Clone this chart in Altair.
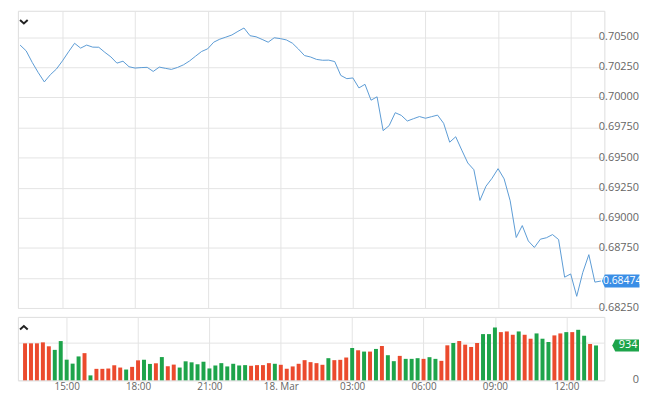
import altair as alt
import pandas as pd

# ---- data (15-minute steps, 17 Mar 13:15 -> 18 Mar 13:15) ----
price = [0.70435, 0.70387, 0.70291, 0.70206, 0.70129, 0.70189, 0.70236, 0.70304, 0.70379, 0.70450,
         0.70410, 0.70435, 0.70418, 0.70417, 0.70375, 0.70337, 0.70285, 0.70301, 0.70255, 0.70244,
         0.70248, 0.70250, 0.70216, 0.70252, 0.70242, 0.70233, 0.70249, 0.70271, 0.70303, 0.70343,
         0.70382, 0.70404, 0.70459, 0.70484, 0.70501, 0.70519, 0.70549, 0.70577, 0.70513, 0.70504,
         0.70482, 0.70459, 0.70496, 0.70489, 0.70478, 0.70451, 0.70402, 0.70348, 0.70336, 0.70316,
         0.70309, 0.70310, 0.70298, 0.70183, 0.70156, 0.70162, 0.70079, 0.70109, 0.69977, 0.70005,
         0.69724, 0.69766, 0.69873, 0.69851, 0.69804, 0.69823, 0.69841, 0.69827, 0.69840, 0.69853,
         0.69785, 0.69628, 0.69673, 0.69562, 0.69455, 0.69399, 0.69144, 0.69262, 0.69328, 0.69408,
         0.69323, 0.69141, 0.68836, 0.68935, 0.68807, 0.68753, 0.68822, 0.68834, 0.68860, 0.68819,
         0.68506, 0.68533, 0.68347, 0.68545, 0.68693, 0.68465, 0.68474]

volume = [991, 991, 991, 1017, 912, 816, 1052, 553, 447, 640,
          728, 132, 307, 307, 316, 403, 342, 289, 360, 535,
          553, 439, 456, 623, 377, 421, 342, 509, 482, 430,
          498, 318, 397, 460, 372, 443, 398, 407, 389, 407,
          407, 460, 443, 416, 310, 372, 443, 540, 487, 460,
          416, 593, 540, 549, 611, 867, 805, 770, 770, 841,
          920, 673, 513, 655, 575, 575, 593, 575, 620, 575,
          522, 938, 1000, 1053, 956, 894, 1000, 1239, 1239, 1416,
          1292, 1310, 1221, 1310, 1221, 1115, 1257, 1115, 1027, 1204,
          1257, 1292, 1292, 1354, 1195, 974, 934]

direction = list("RRRRRGGGGG" "RGRRRRRGRR" "GGRGRRGGGG" "GGGGGGGGRR" "RRGRRRRRRR"
                 "RGRRRGRGRG" "RGGRGGGRGG" "RRGRRRRGGG" "RRRGRRGGGR" "RGRGGRG")

price_ticks = [0.6825, 0.685, 0.6875, 0.69, 0.6925, 0.695, 0.6975, 0.70, 0.7025, 0.705]
price_tick_labels = ["0.68250", "", "0.68750", "0.69000", "0.69250", "0.69500",
                     "0.69750", "0.70000", "0.70250", "0.70500"]
volume_ticks = [0, 1000]
volume_tick_labels = ["0", ""]
time_tick_hours = [(17, 15), (17, 18), (17, 21), (18, 0), (18, 3), (18, 6), (18, 9), (18, 12)]

times = pd.date_range("2020-03-17 13:15", periods=len(price), freq="15min")
df = pd.DataFrame({
    "t": [t.strftime("%Y-%m-%dT%H:%M:%SZ") for t in times],
    "price": price,
    "volume": volume,
    "dir": direction,
})
last = df.tail(1).copy()
last["price_label"] = [f"{p:.5f}" for p in last["price"]]
last["volume_label"] = [str(v) for v in last["volume"]]
ptick_df = pd.DataFrame({"v": price_ticks, "s": price_tick_labels})
vtick_df = pd.DataFrame({"v": volume_ticks, "s": volume_tick_labels})

W = 592
H_MAIN = 300
H_VOL = 64
LINE = "#5b9bd5"
GREEN = "#1da44a"
RED = "#eb4a2d"
BLUE_BADGE = "#3a8ee6"
LABEL = "#666666"
GRID = "#e4e4e4"
FONT = "Open Sans"

xdomain = [alt.DateTime(year=2020, month=3, date=17, hours=13, minutes=9, seconds=30, utc=True),
           alt.DateTime(year=2020, month=3, date=18, hours=13, minutes=23, seconds=30, utc=True)]
xvalues = [alt.DateTime(year=2020, month=3, date=d, hours=h, utc=True) for d, h in time_tick_hours]
xscale = alt.Scale(type="utc", domain=xdomain)
yscale_p = alt.Scale(domain=[0.6825, 0.70720], nice=False, zero=False)
yscale_v = alt.Scale(domain=[0, 1700], nice=False, zero=False)

yaxis_p = alt.Axis(orient="right", values=price_ticks, labels=False, ticks=False,
                   domain=False, grid=True, gridColor=GRID)
yaxis_v = alt.Axis(orient="right", values=volume_ticks, labels=False, ticks=False,
                   domain=False, grid=True, gridColor=GRID)


def YP(field):
    return alt.Y(field, scale=yscale_p, title=None, axis=yaxis_p)


def YV(field):
    return alt.Y(field, scale=yscale_v, title=None, axis=yaxis_v)


x_main = alt.X("t:T", scale=xscale, title=None,
               axis=alt.Axis(values=xvalues, labels=False, ticks=False, domain=False,
                             grid=True, gridColor=GRID))

base = alt.Chart(df)

line = base.mark_line(color=LINE, strokeWidth=1, clip=True).encode(x=x_main, y=YP("price:Q"))

ptick_text = alt.Chart(ptick_df).mark_text(
    align="right", baseline="middle", fontSize=11, font=FONT, color=LABEL
).encode(x=alt.value(W + 35), y=YP("v:Q"), text="s:N")

chev_down = alt.Chart(pd.DataFrame({"s": [0]})).mark_point(
    shape="M-1,-0.45L0,0.45L1,-0.45", filled=False, strokeWidth=2, color="#222", size=60, opacity=1
).encode(x=alt.value(6), y=alt.value(11))

badge_p = alt.Chart(last).mark_point(
    shape="M-1.17,0L-1,-0.37L1,-0.37L1,0.37L-1,0.37Z", filled=True, opacity=1,
    color=BLUE_BADGE, size=1225
).encode(x=alt.value(610), y=YP("price:Q"))

badge_p_text = alt.Chart(last).mark_text(
    color="white", fontSize=10.5, font=FONT, baseline="middle"
).encode(x=alt.value(610), y=YP("price:Q"), text="price_label:N")

main = alt.layer(line, ptick_text, chev_down, badge_p, badge_p_text).properties(
    width=W, height=H_MAIN)

x_vol = alt.X("t:T", scale=xscale, title=None,
              axis=alt.Axis(values=xvalues, ticks=False, domain=False, grid=True, gridColor=GRID,
                            labelExpr="utchours(datum.value) == 0 ? utcFormat(datum.value, '%d. %b') : utcFormat(datum.value, '%H:%M')",
                            labelColor=LABEL, labelFontSize=10, labelFont=FONT, labelPadding=1,
                            labelFlush=False, labelOverlap=False))

bars = base.mark_bar(size=4).encode(
    x=x_vol,
    y=YV("volume:Q"),
    color=alt.Color("dir:N", scale=alt.Scale(domain=["G", "R"], range=[GREEN, RED]), legend=None),
)

vtick_text = alt.Chart(vtick_df).mark_text(
    align="right", baseline="middle", fontSize=11, font=FONT, color=LABEL
).encode(x=alt.value(W + 35), y=YV("v:Q"), text="s:N")

chev_up = alt.Chart(pd.DataFrame({"s": [0]})).mark_point(
    shape="M-1,0.45L0,-0.45L1,0.45", filled=False, strokeWidth=2, color="#222", size=60, opacity=1
).encode(x=alt.value(6), y=alt.value(11))

badge_v = alt.Chart(last).mark_point(
    shape="M-1.25,0L-1,-0.5L1,-0.5L1,0.5L-1,0.5Z", filled=True, opacity=1,
    color=GREEN, size=576
).encode(x=alt.value(615), y=YV("volume:Q"))

badge_v_text = alt.Chart(last).mark_text(
    color="white", fontSize=11, font=FONT, baseline="middle"
).encode(x=alt.value(616), y=YV("volume:Q"), text="volume_label:N")

vol = alt.layer(bars, vtick_text, chev_up, badge_v, badge_v_text).properties(width=W, height=H_VOL)

chart = alt.vconcat(main, vol, spacing=2).properties(
    padding={"left": 7, "top": 0, "right": 0, "bottom": 0}
).configure_view(stroke="#d4d4d4").configure(background="white")

chart.save("out.html", embed_options={"renderer": "svg", "actions": False})
